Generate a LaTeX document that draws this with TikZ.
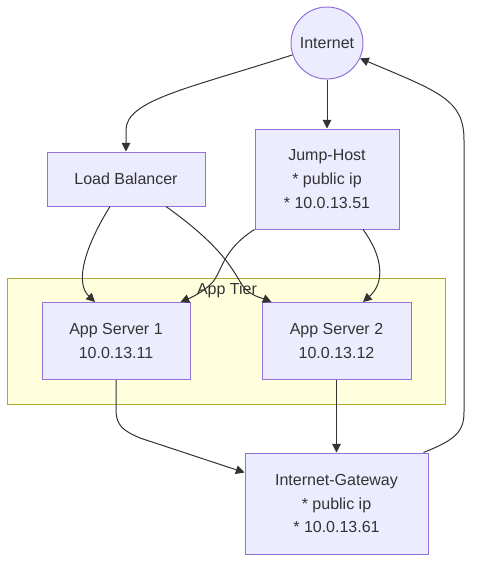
\documentclass[tikz,border=0pt]{standalone}
\usepackage{fontspec}
\setmainfont{Liberation Sans}
\usetikzlibrary{arrows.meta,calc}
\definecolor{hostfill}{HTML}{ECECFF}
\definecolor{hostline}{HTML}{9370DB}
\definecolor{tierfill}{HTML}{FFFFDE}
\definecolor{tierline}{HTML}{AAAA33}
\definecolor{wire}{HTML}{333333}
\tikzset{every picture/.style={line width=0.75pt}}

\begin{document}
\begin{tikzpicture}[x=0.75pt,y=0.75pt,yscale=-1,xscale=1,
  host/.style={draw=hostline,fill=hostfill,text=wire,inner sep=0pt,align=center,font=\fontsize{12}{17.8}\selectfont},
  hub/.style={host,circle,minimum size=54pt},
  tier/.style={draw=tierline,fill=tierfill,minimum width=328.5pt,minimum height=94.5pt},
  wirelink/.style={draw=wire,-{Triangle[length=6.5pt,width=6.5pt]}}]
\useasboundingbox (0,0) rectangle (481,572);

%Shape: Rectangle [id:apptier]
\node [tier] (apptier) at (226,341) {};
% Text Node
\node [anchor=center,inner sep=0.75pt,text=wire,font=\fontsize{12}{14}\selectfont] (tierlabel) at (227,290) {App Tier};

%Shape: Circle [id:internet]
\node [hub] (inet) at (327,43) {Internet};
%Shape: Rectangle [id:loadbal]
\node [host,minimum width=118.5pt,minimum height=40.5pt] (lb) at (126,179) {Load Balancer};
%Shape: Rectangle [id:jumphost]
\node [host,minimum width=108pt,minimum height=75pt] (jump) at (327,179) {Jump-Host\\* public ip\\* 10.0.13.51};
%Shape: Rectangle [id:appsrv1]
\node [host,minimum width=111pt,minimum height=57.75pt] (as1) at (116,341) {App Server 1\\10.0.13.11};
%Shape: Rectangle [id:appsrv2]
\node [host,minimum width=111.75pt,minimum height=57.75pt] (as2) at (336.5,341) {App Server 2\\10.0.13.12};
%Shape: Rectangle [id:gateway]
\node [host,minimum width=137.25pt,minimum height=75.75pt] (igw) at (336.5,503.5) {Internet-Gateway\\* public ip\\* 10.0.13.61};

%Curve Lines [id:inet-lb]
\draw [wirelink] (inet.199) .. controls (190,88) and (126,100) .. (126,130) -- (lb.north);
%Straight Lines [id:inet-jump]
\draw [wirelink] (inet) -- (jump);
%Curve Lines [id:lb-as1]
\draw [wirelink] ($(lb.south)+(-16,0)$) .. controls (86,245) and (74,282) .. ($(as1.north)+(-21,0)$);
%Curve Lines [id:lb-as2]
\draw [wirelink] ($(lb.south)+(40,0)$) .. controls (220,245) and (232,268) .. (242,285) .. controls (250,296) and (262,298) .. ($(as2.north west)+(10,0)$);
%Curve Lines [id:jump-as1]
\draw [wirelink] (jump.south west) .. controls (222,250) and (222,272) .. (212,283) .. controls (202,293) and (190,298) .. ($(as1.north east)+(-10,0)$);
%Curve Lines [id:jump-as2]
\draw [wirelink] ($(jump.south)+(36,0)$) .. controls (382,255) and (386,282) .. ($(as2.north)+(26.5,0)$);
%Curve Lines [id:as1-igw]
\draw [wirelink] (as1.south) -- (116,410) .. controls (116,426) and (124,431) .. (140,438) -- ($(igw.north west)+(0,20)$);
%Straight Lines [id:as2-igw]
\draw [wirelink] (as2) -- (igw);
%Curve Lines [id:igw-inet]
\draw [wirelink] ($(igw.north east)+(-5,0)$) .. controls (455,440) and (464,432) .. (464,412) -- (464,140) .. controls (464,100) and (440,92) .. (inet.335);

\end{tikzpicture}
\end{document}
